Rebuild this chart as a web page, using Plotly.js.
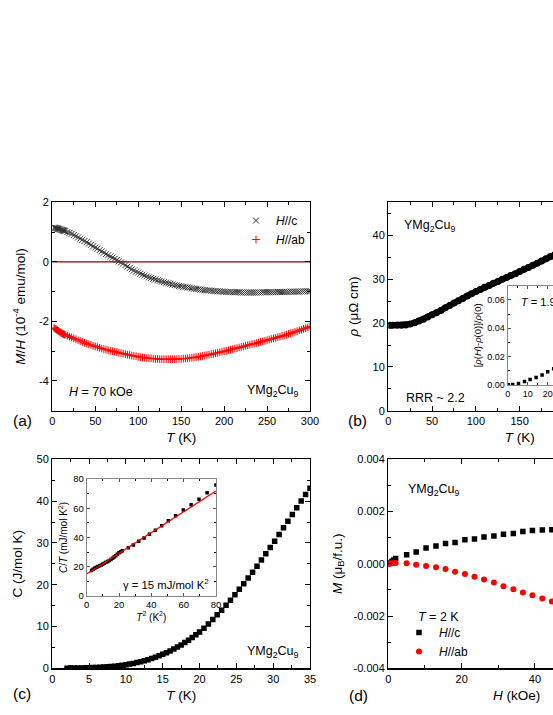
<!DOCTYPE html>
<html>
<head>
<meta charset="utf-8">
<script src="https://cdn.plot.ly/plotly-3.0.1.min.js"></script>
<style>
html,body{margin:0;padding:0;background:#fff;overflow:hidden;width:553px;height:715px;}
#chart{width:700px;height:715px;}
</style>
</head>
<body>
<div id="chart"></div>
<script>
// ---------- DATA ----------
// (a) M/H vs T at H = 70 kOe
const Ta = [2,3,4,5,6,7,8,9,10,11,12,13,14,15,
17.5,20,22.5,25,27.5,30,32.5,35,37.5,40,42.5,45,47.5,50,52.5,55,57.5,60,62.5,65,67.5,70,72.5,75,77.5,80,
82.5,85,87.5,90,92.5,95,97.5,100,102.5,105,107.5,110,112.5,115,117.5,120,122.5,125,127.5,130,132.5,135,137.5,140,
142.5,145,147.5,150,152.5,155,157.5,160,162.5,165,167.5,170,172.5,175,177.5,180,182.5,185,187.5,190,192.5,195,197.5,200,
202.5,205,207.5,210,212.5,215,217.5,220,222.5,225,227.5,230,232.5,235,237.5,240,242.5,245,247.5,250,252.5,255,257.5,260,
262.5,265,267.5,270,272.5,275,277.5,280,282.5,285,287.5,290,292.5,295,297.5,300];
const MH_c = [1.15,1.14,1.14,1.13,1.12,1.11,1.10,1.09,1.08,1.07,1.06,1.05,1.04,1.03,
1.00,0.97,0.94,0.90,0.86,0.82,0.78,0.74,0.70,0.66,0.61,0.57,0.52,0.48,0.44,0.39,0.35,0.31,0.26,0.22,0.18,0.14,0.10,0.06,0.02,-0.02,
-0.06,-0.11,-0.16,-0.21,-0.25,-0.29,-0.33,-0.36,-0.40,-0.43,-0.46,-0.49,-0.52,-0.54,-0.57,-0.59,-0.62,-0.64,-0.66,-0.68,-0.70,-0.72,-0.74,-0.76,
-0.78,-0.79,-0.81,-0.82,-0.84,-0.85,-0.86,-0.87,-0.89,-0.90,-0.91,-0.92,-0.93,-0.94,-0.95,-0.96,-0.96,-0.97,-0.98,-0.98,-0.99,-0.99,-1.00,-1.00,
-1.01,-1.01,-1.01,-1.02,-1.02,-1.02,-1.02,-1.03,-1.03,-1.03,-1.03,-1.03,-1.03,-1.03,-1.03,-1.03,-1.03,-1.02,-1.02,-1.02,-1.02,-1.02,-1.02,-1.02,
-1.01,-1.01,-1.01,-1.01,-1.01,-1.01,-1.00,-1.00,-1.00,-1.00,-1.00,-0.99,-0.99,-0.99,-0.99,-0.99];
const MH_ab = [-2.22,-2.24,-2.26,-2.28,-2.30,-2.32,-2.34,-2.36,-2.38,-2.40,-2.41,-2.43,-2.44,-2.45,
-2.48,-2.51,-2.54,-2.57,-2.60,-2.63,-2.66,-2.69,-2.72,-2.74,-2.77,-2.79,-2.82,-2.84,-2.86,-2.89,-2.91,-2.93,-2.95,-2.97,-2.99,-3.00,-3.02,-3.03,-3.05,-3.07,
-3.08,-3.10,-3.12,-3.13,-3.15,-3.16,-3.17,-3.19,-3.20,-3.21,-3.22,-3.23,-3.24,-3.24,-3.25,-3.26,-3.26,-3.27,-3.27,-3.27,-3.27,-3.27,-3.27,-3.27,
-3.27,-3.27,-3.26,-3.26,-3.25,-3.25,-3.24,-3.23,-3.22,-3.21,-3.20,-3.19,-3.18,-3.16,-3.15,-3.13,-3.12,-3.10,-3.09,-3.07,-3.06,-3.04,-3.02,-3.00,
-2.99,-2.97,-2.95,-2.93,-2.91,-2.90,-2.88,-2.86,-2.84,-2.82,-2.80,-2.78,-2.76,-2.75,-2.73,-2.71,-2.69,-2.67,-2.65,-2.63,-2.61,-2.59,-2.57,-2.55,
-2.53,-2.51,-2.49,-2.47,-2.45,-2.42,-2.40,-2.38,-2.35,-2.33,-2.30,-2.28,-2.25,-2.23,-2.20,-2.17];
const zeroLineT = [0, 300];
const zeroLineV = [0, 0];

// (b) resistivity vs T
const Tb = [2,5,10,15,20,25,30,35,40,45,50,55,60,65,70,75,80,85,90,95,100,105,110,115,120,125,130,135,140,145,150,
155,160,165,170,175,180,185,190,195,200,205,210,215,220,225,230,235,240,245,250,255,260,265,270,275,280,285,290,295,300];
const rho = [19.5,19.5,19.5,19.5,19.6,19.8,20.1,20.5,20.9,21.4,21.9,22.4,22.9,23.5,24.0,24.6,25.1,25.6,26.2,26.7,27.2,27.7,28.2,28.6,29.1,29.5,30.0,30.4,30.9,31.3,31.8,
32.3,32.7,33.2,33.7,34.2,34.7,35.2,35.6,36.1,36.5,37.0,37.4,37.9,38.3,38.7,39.1,39.5,39.9,40.3,40.7,41.1,41.5,41.9,42.3,42.7,43.0,43.4,43.8,44.1,44.5];
// (b) inset: magnetoresistance at T = 1.9 K
const Hmr = [0.3,2.5,5.4,8.4,11.2,14.2,17.2,20.0,23.0,26.0,29.0,32.0,35.0,38.0,41.0,44.0,47.0,50.0,53.0,56.0,59.0];
const MR  = [0.0001,0.0004,0.0011,0.0024,0.0038,0.0052,0.0071,0.0093,0.0115,0.014,0.0165,0.019,0.022,0.025,0.028,0.031,0.034,0.037,0.040,0.044,0.047];

// (c) specific heat vs T
const Tc = [2,2.5,3,3.5,4,4.5,5,5.5,6,6.5,7,7.5,8,8.5,9,9.5,10,10.5,11,11.5,12,12.5,13,13.5,14,14.5,15,15.5,16,16.5,17,17.5,18,18.5,19,19.5,20,
20.6,21.2,21.8,22.4,23.0,23.6,24.2,24.8,25.4,26.0,26.6,27.2,27.8,28.4,29.0,29.6,30.2,30.8,31.4,32.0,32.6,33.2,33.8,34.4,35.0];
const Cp = [0.03,0.05,0.06,0.08,0.10,0.12,0.15,0.18,0.22,0.26,0.31,0.37,0.44,0.52,0.61,0.72,0.85,1.0,1.17,1.36,1.57,1.8,2.06,2.34,2.65,2.98,3.34,3.73,4.15,4.6,5.08,5.6,6.15,6.73,7.35,8.0,8.7,
9.6,10.6,11.7,12.8,13.9,15.1,16.3,17.6,18.9,20.2,21.6,23.0,24.4,25.9,27.4,28.9,30.4,32.0,33.6,35.2,36.8,38.4,40.0,41.6,43.1];
// (c) inset: C/T vs T^2
const T2 = [3,4,5,6,7,8,9,10,11,12,13,14,15,16,17,18,19,20,21,22,
25.8,28.9,32.2,35.5,38.8,42.5,46.4,50.5,55.0,59.8,64.6,69.5,74.5,80.0];
const CoverT = [17.5,18.3,19.0,19.6,20.1,20.6,21.2,21.8,22.4,23.0,23.6,24.2,25.0,25.8,26.6,27.5,28.5,29.5,30.3,31.0,
33.0,34.9,37.4,39.7,42.2,44.9,48.1,51.5,54.9,58.8,62.4,66.1,70.6,75.9];
const fitT2 = [0, 80];
const fitCT = [15, 71.8];

// (d) magnetization vs H at T = 2 K
const Hd = [0.1,0.5,1.0,1.5,2.0,5.0,7.6,10.3,13.0,15.6,18.2,20.9,23.5,26.1,28.8,31.4,34.1,36.7,39.3,42.0,44.6,47.2,49.9,52.5,55.1,57.8,60.4,63.0,65.7,68.3];
const M_c = [0.00001,0.00005,0.0001,0.00015,0.0002,0.00035,0.00045,0.0006,0.00068,0.00078,0.00082,0.00092,0.00095,0.00103,0.00106,0.00113,0.00116,0.00124,0.00127,0.00129,0.0013,0.00134,0.00136,0.00139,0.0014,0.00143,0.00145,0.00147,0.00148,0.0015];
const M_ab = [0,0.00001,0.00002,0.00003,0.00003,0.00002,-0.00004,-0.00008,-0.00013,-0.0002,-0.0003,-0.00039,-0.0005,-0.0006,-0.00072,-0.00086,-0.00097,-0.0011,-0.0012,-0.00133,-0.00144,-0.00156,-0.00168,-0.0018,-0.00192,-0.00204,-0.00216,-0.00228,-0.0024,-0.00252];

// ---------- LAYOUT HELPERS ----------
const W = 700, Hh = 715;
const px = v => v / W;
const py = v => 1 - v / Hh;
const dx = (a, b) => [px(a), px(b)];
const dy = (top, bot) => [py(bot), py(top)];
const FONT = 'Arial, "Liberation Sans", sans-serif';

function axis(opts) {
  const base = {
    showline: true, linecolor: '#000', linewidth: 1.3, mirror: 'allticks',
    ticks: 'inside', ticklen: 5, tickwidth: 1, tickcolor: '#000',
    showgrid: false, zeroline: false, fixedrange: true,
    tickfont: {family: FONT, size: 11, color: '#000'},
    title: {font: {family: FONT, size: 13.5, color: '#000'}}
  };
  const o = Object.assign({}, base, opts);
  if (opts.title) o.title = Object.assign({}, base.title, opts.title);
  if (opts.tickfont) o.tickfont = Object.assign({}, base.tickfont, opts.tickfont);
  return o;
}
function minor(d, len) { return {ticks: 'inside', ticklen: len || 3, tickcolor: '#000', tickwidth: 1, dtick: d}; }

const traces = [
  // (a)
  {x: zeroLineT, y: zeroLineV, xaxis: 'x', yaxis: 'y', mode: 'lines', line: {color: '#8b0000', width: 1.3}, showlegend: false, hoverinfo: 'skip'},
  {x: Ta, y: MH_c, xaxis: 'x', yaxis: 'y', mode: 'markers', name: '<i>H</i>//c', legend: 'legend',
   marker: {symbol: 'x-thin-open', size: 6, line: {color: '#333', width: 1}, color: '#333'}},
  {x: Ta, y: MH_ab, xaxis: 'x', yaxis: 'y', mode: 'markers', name: '<i>H</i>//ab', legend: 'legend',
   marker: {symbol: 'cross-thin-open', size: 5.5, line: {color: '#ff0000', width: 1}, color: '#ff0000'}},
  // (b)
  {x: Tb, y: rho, xaxis: 'x2', yaxis: 'y2', mode: 'lines+markers', showlegend: false,
   line: {color: '#000', width: 6}, marker: {symbol: 'circle', size: 7, color: '#000'}},
  {x: Hmr, y: MR, xaxis: 'x5', yaxis: 'y5', mode: 'markers', showlegend: false,
   marker: {symbol: 'square', size: 3.5, color: '#000'}},
  // (c)
  {x: Tc, y: Cp, xaxis: 'x3', yaxis: 'y3', mode: 'markers', showlegend: false,
   marker: {symbol: 'square', size: 5.5, color: '#000'}},
  {x: T2, y: CoverT, xaxis: 'x6', yaxis: 'y6', mode: 'markers', showlegend: false,
   marker: {symbol: 'square', size: 3.5, color: '#000'}},
  {x: fitT2, y: fitCT, xaxis: 'x6', yaxis: 'y6', mode: 'lines', showlegend: false,
   line: {color: '#ff0000', width: 1.3}},
  // (d)
  {x: Hd, y: M_c, xaxis: 'x4', yaxis: 'y4', mode: 'markers', name: '<i>H</i>//c', legend: 'legend2',
   marker: {symbol: 'square', size: 5.5, color: '#000'}},
  {x: Hd, y: M_ab, xaxis: 'x4', yaxis: 'y4', mode: 'markers', name: '<i>H</i>//ab', legend: 'legend2',
   marker: {symbol: 'circle', size: 6, color: '#ff0000'}}
];

function ann(text, x, y, xanchor, size, extra) {
  return Object.assign({text: text, x: px(x), y: py(y), xref: 'paper', yref: 'paper',
    xanchor: xanchor, yanchor: 'middle', showarrow: false,
    font: {family: FONT, size: size, color: '#000'}}, extra || {});
}
const YMG = 'YMg<sub>2</sub>Cu<sub>9</sub>';

const layout = {
  width: W, height: Hh,
  margin: {l: 0, r: 0, t: 0, b: 0},
  paper_bgcolor: '#fff', plot_bgcolor: '#fff',
  font: {family: FONT, color: '#000'},
  showlegend: true,
  legend: {x: px(236), y: py(206), xanchor: 'left', yanchor: 'top', bgcolor: 'rgba(0,0,0,0)',
    font: {family: FONT, size: 12}, itemwidth: 30, tracegroupgap: 0},
  legend2: {x: px(399), y: py(618), xanchor: 'left', yanchor: 'top', bgcolor: 'rgba(0,0,0,0)',
    font: {family: FONT, size: 12}, itemwidth: 30},
  // (a)
  xaxis: axis({domain: dx(52.3, 310), range: [0, 300], anchor: 'y', dtick: 50, minor: minor(25),
    title: {text: '<i>T</i> (K)', standoff: 6}}),
  yaxis: axis({domain: dy(202.3, 410.7), range: [-5, 2], anchor: 'x',
    tickvals: [-4, -2, 0, 2], ticktext: ['-4', '-2', '0', '2'], minor: minor(1),
    title: {text: '<i>M</i>/<i>H</i> (10<sup>-4</sup> emu/mol)', standoff: 10}}),
  // (b)
  xaxis2: axis({domain: dx(388.3, 651), range: [0, 300], anchor: 'y2', dtick: 50, minor: minor(25),
    title: {text: '<i>T</i> (K)', standoff: 6}}),
  yaxis2: axis({domain: dy(202.3, 410.7), range: [0, 47.6], anchor: 'x2', dtick: 10, minor: minor(5),
    title: {text: '<i>ρ</i> (μΩ cm)', standoff: 10}}),
  // (c)
  xaxis3: axis({domain: dx(52.3, 310), range: [0, 35], anchor: 'y3', dtick: 5, minor: minor(2.5),
    title: {text: '<i>T</i> (K)', standoff: 6}}),
  yaxis3: axis({domain: dy(459.3, 668.3), range: [0, 50], anchor: 'x3', dtick: 10, minor: minor(5),
    title: {text: 'C (J/mol K)', standoff: 10}}),
  // (d)
  xaxis4: axis({domain: dx(388.3, 645), range: [0, 70], anchor: 'y4', dtick: 20, minor: minor(10),
    title: {text: '<i>H</i> (kOe)', standoff: 6}}),
  yaxis4: axis({domain: dy(459.3, 668.3), range: [-0.004, 0.004], anchor: 'x4',
    tickvals: [-0.004, -0.002, 0, 0.002, 0.004], ticktext: ['-0.004', '-0.002', '0.000', '0.002', '0.004'],
    minor: minor(0.001),
    title: {text: '<i>M</i> (μ<sub>B</sub>/f.u.)', standoff: 8}}),
  // (b) inset
  xaxis5: axis({domain: dx(507.7, 627.7), range: [0, 60], anchor: 'y5', dtick: 10, minor: minor(5, 2),
    linecolor: '#888', linewidth: 1, ticklen: 3, tickcolor: '#555', tickfont: {size: 9}}),
  yaxis5: axis({domain: dy(285.7, 385), range: [0, 0.07], anchor: 'x5',
    tickvals: [0, 0.02, 0.04, 0.06], ticktext: ['0.00', '0.02', '0.04', '0.06'], minor: minor(0.01, 2),
    linecolor: '#888', linewidth: 1, ticklen: 3, tickcolor: '#555', tickfont: {size: 9},
    title: {text: '[<i>ρ</i>(<i>H</i>)-<i>ρ</i>(0)]/<i>ρ</i>(0)', font: {size: 9.5}, standoff: 4}}),
  // (c) inset
  xaxis6: axis({domain: dx(86.7, 216), range: [0, 80], anchor: 'y6', dtick: 20, minor: minor(10, 2),
    linecolor: '#888', linewidth: 1, ticklen: 3, tickcolor: '#555', tickfont: {size: 9.5},
    title: {text: '<i>T</i><sup>2</sup> (K<sup>2</sup>)', font: {size: 10}, standoff: 3}}),
  yaxis6: axis({domain: dy(479, 596), range: [0, 80], anchor: 'x6', dtick: 20, minor: minor(10, 2),
    linecolor: '#888', linewidth: 1, ticklen: 3, tickcolor: '#555', tickfont: {size: 9.5},
    title: {text: '<i>C</i>/<i>T</i> (mJ/mol K<sup>2</sup>)', font: {size: 10}, standoff: 3}}),
  annotations: [
    ann('<i>H</i> = 70 kOe', 67, 392, 'left', 12.5),
    ann(YMG, 301, 391, 'right', 12.5),
    ann('(a)', 22, 420, 'center', 15.5),
    ann(YMG, 402, 226, 'left', 12.5),
    ann('RRR ~ 2.2', 404, 398, 'left', 12.5),
    ann('(b)', 357, 420, 'center', 15.5),
    ann('<i>T</i> = 1.9 K', 519, 302, 'left', 11),
    ann(YMG, 301, 652, 'right', 12.5),
    ann('(c)', 22, 693, 'center', 15.5),
    ann('γ = 15 mJ/mol K<sup>2</sup>', 121, 584, 'left', 11.3),
    ann(YMG, 406, 490, 'left', 12.5),
    ann('<i>T</i> = 2 K', 416, 617, 'left', 12.5),
    ann('(d)', 358, 695, 'center', 15.5)
  ]
};

Plotly.newPlot('chart', traces, layout, {staticPlot: true, displayModeBar: false});
</script>
</body>
</html>
